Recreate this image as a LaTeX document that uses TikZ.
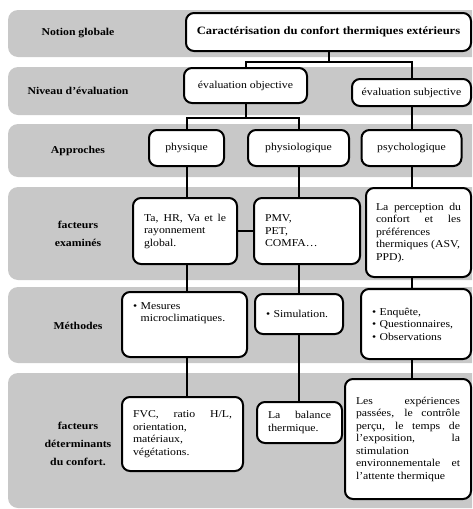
\documentclass[tikz,border=0pt]{standalone}
\usepackage{fontspec}
\setmainfont{Liberation Serif}[FakeStretch=1.12]
\usetikzlibrary{positioning}
\definecolor{bandgray}{HTML}{C8C8C8}

\begin{document}
\begin{tikzpicture}[
  x=1pt, y=-1pt,
  band/.style={fill=bandgray, rounded corners=10pt},
  lbl/.style={align=center, font=\fontsize{10.5}{18}\selectfont\bfseries},
  cbox/.style={draw, line width=2pt, rounded corners=8pt, fill=white,
               inner xsep=11pt, inner ysep=3pt, font=\fontsize{10.5}{12.5}\selectfont},
  ctext/.style={cbox, align=center},
  ltext/.style={cbox, align=left},
  jtext/.style={cbox, align=justify},
  link/.style={line width=2pt}
]
  \clip (0,0) rectangle (472,509);

  \fill[band] (8,10) rectangle (492,57);
  \fill[band] (8,67) rectangle (492,115);
  \fill[band] (8,124) rectangle (492,177);
  \fill[band] (8,187) rectangle (492,280);
  \fill[band] (8,287) rectangle (492,363);
  \fill[band] (8,373) rectangle (492,508);

  \node[lbl] (lnotion) at (78,33.5) {Notion globale};
  \node[lbl] (lniveau) at (78,91) {Niveau d'évaluation};
  \node[lbl] (lappr) at (78,150.5) {Approches};
  \node[lbl] (lfact) at (78,234) {facteurs\\examinés};
  \node[lbl] (lmeth) at (78,326) {Méthodes};
  \node[lbl] (ldet) at (78,444) {facteurs\\déterminants\\du confort.};

  \node[ctext, font=\fontsize{11.2}{13}\selectfont\bfseries, minimum width=285pt,
        minimum height=38pt, inner xsep=4pt] (top) at (328.5,32) {Caractérisation du confort thermiques extérieurs};

  \node[ctext, minimum width=123pt, minimum height=35pt] (obj) at (245.5,85.5) {évaluation objective};
  \node[ctext, minimum width=119pt, minimum height=27pt, inner xsep=4pt] (subj) at (411.5,92.5) {évaluation subjective};

  \node[ctext, minimum width=75pt, minimum height=36pt] (phys) at (186.5,148) {physique};
  \node[ctext, minimum width=101pt, minimum height=36pt] (physio) at (298.5,148) {physiologique};
  \node[ctext, minimum width=100pt, minimum height=36pt] (psycho) at (411.5,148) {psychologique};

  \node[jtext, text width=82pt, minimum height=66pt] (ta) at (185,231)
    {Ta, HR, Va et le\linebreak rayonnement\newline global.};
  \node[ltext, text width=84pt, minimum height=66pt] (pmv) at (307,231)
    {PMV,\\PET,\\COMFA…};
  \node[jtext, text width=85pt, inner xsep=10pt, minimum height=89pt] (perc) at (418.5,232.5)
    {La perception du\linebreak confort et les\linebreak préférences\newline thermiques (ASV,\newline PPD).};

  \node[ltext, text width=103pt, minimum height=65pt] (mes) at (184.5,324.5)
    {\textbullet\ Mesures\\\phantom{\textbullet\ }microclimatiques.\\\rule{0pt}{22pt}};
  \node[ltext, text width=66pt, minimum height=40pt] (sim) at (299,314)
    {\textbullet\ Simulation.};
  \node[ltext, text width=88pt, minimum height=70pt] (enq) at (416,324)
    {\textbullet\ Enquête,\\\textbullet\ Questionnaires,\\\textbullet\ Observations};

  \node[jtext, text width=99pt, minimum height=74pt] (fvc) at (182.5,434)
    {FVC, ratio H/L,\linebreak orientation,\newline matériaux,\newline végétations.};
  \node[jtext, text width=63pt, minimum height=41pt] (bal) at (299.5,422.5)
    {La balance\linebreak thermique.};
  \node[jtext, text width=104pt, minimum height=120pt] (les) at (408,439)
    {Les expériences\linebreak passées, le contrôle\linebreak perçu, le temps de\linebreak
     l'exposition, la\linebreak stimulation\newline environnementale et\linebreak l'attente thermique};

  \draw[link] (top.south) -- ++(0,10) coordinate (j1) -| (obj.north);
  \draw[link] (j1) -| (subj.north);
  \draw[link] (obj.south) -- ++(0,14) coordinate (j2) -| (phys.north);
  \draw[link] (j2) -| (physio.north);
  \draw[link] (subj.south) -- (psycho.north);

  \draw[link] (phys.south) -- (phys.south |- ta.north);
  \draw[link] (phys.south |- ta.south) -- (phys.south |- mes.north);
  \draw[link] (phys.south |- mes.south) -- (phys.south |- fvc.north);

  \draw[link] (physio.south) -- (physio.south |- pmv.north);
  \draw[link] (physio.south |- pmv.south) -- (physio.south |- sim.north);
  \draw[link] (physio.south |- sim.south) -- (physio.south |- bal.north);

  \draw[link] (psycho.south) -- (psycho.south |- perc.north);
  \draw[link] (psycho.south |- perc.south) -- (psycho.south |- enq.north);
  \draw[link] (psycho.south |- enq.south) -- (psycho.south |- les.north);

  \draw[link] (ta) -- (pmv);
\end{tikzpicture}
\end{document}
